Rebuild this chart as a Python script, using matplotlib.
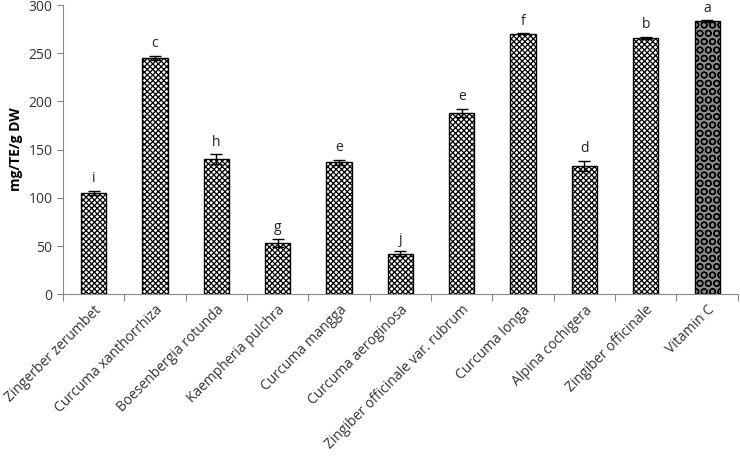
import numpy as np
import matplotlib
matplotlib.use("Agg")
import matplotlib.pyplot as plt

plt.rcParams['font.family'] = ['Open Sans', 'DejaVu Sans']
plt.rcParams['hatch.linewidth'] = 0.9

names = ["Zingerber zerumbet", "Curcuma xanthorrhiza", "Boesenbergia rotunda",
         "Kaempheria pulchra", "Curcuma mangga", "Curcuma aeroginosa",
         "Zingiber officinale var. rubrum", "Curcuma longa", "Alpina cochigera",
         "Zingiber officinale", "Vitamin C"]
values = [105, 245, 140, 53, 137, 42, 188, 270, 133, 266, 283]
errors = [2.5, 2.5, 5, 4, 2.5, 2.5, 4, 0.5, 5, 1, 1]
letters = ["i", "c", "h", "g", "e", "j", "e", "f", "d", "b", "a"]

fig = plt.figure(figsize=(7.4, 4.57), dpi=100)
ax = fig.add_axes([0.085, 0.356, 0.912, 0.633])

x = np.arange(len(names))
for i in range(len(names)):
    if names[i] == "Vitamin C":
        ax.bar(x[i], values[i], width=0.41, color='#8a8a8a', edgecolor='black',
               linewidth=1.0, hatch='OO', zorder=2)
    else:
        ax.bar(x[i], values[i], width=0.41, color='white', edgecolor='black',
               linewidth=1.0, hatch='xxxxxx', zorder=2)
ax.errorbar(x, values, yerr=errors, fmt='none', ecolor='black', elinewidth=1,
            capsize=4, capthick=1, zorder=3)
for i in range(len(names)):
    ax.text(x[i], values[i] + errors[i] + 5, letters[i], ha='center', va='bottom',
            fontsize=10, color='#222222')

ax.set_xlim(-0.5, len(names) - 0.5)
ax.set_ylim(0, 300)
ax.set_yticks(range(0, 301, 50))
ax.tick_params(axis='y', labelsize=10, colors='#888888', length=4, width=0.8,
               labelcolor='#333333')
ax.set_xticks(x)
ax.set_xticklabels(names, rotation=45, ha='right', rotation_mode='anchor',
                   fontsize=10, color='#333333')
ax.set_xticks(np.arange(-0.5, len(names)), minor=True)
ax.tick_params(axis='x', which='major', length=0, pad=6)
ax.tick_params(axis='x', which='minor', length=5, width=0.8, color='#888888')
ax.set_ylabel("mg/TE/g DW", fontsize=10, fontweight='bold', labelpad=4)

for s in ['top', 'right']:
    ax.spines[s].set_visible(False)
ax.spines['left'].set_color('#888888')
ax.spines['bottom'].set_color('#888888')

fig.savefig("out.png", dpi=100)
